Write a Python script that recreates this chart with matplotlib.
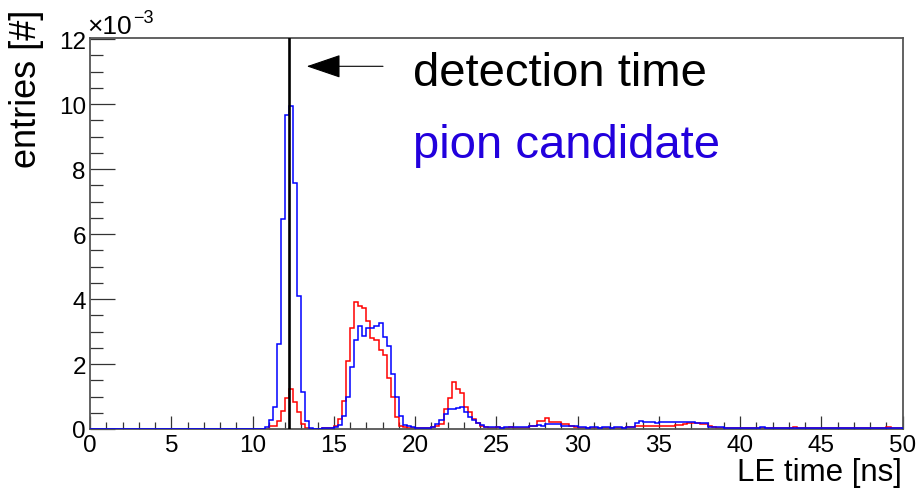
import numpy as np
import matplotlib
matplotlib.use('Agg')
import matplotlib.pyplot as plt
from matplotlib.ticker import MultipleLocator

plt.rcParams['font.family'] = ['Liberation Sans', 'DejaVu Sans']

# ---------------- data ----------------
bin_width = 0.25          # ns
x_range = (0.0, 50.0)     # ns
y_scale_exp = -3

# entries per 0.25 ns bin (units of 1e-3); one row = one ns = 4 bins
pion_blue = [
    [0, 0, 0, 0], [0, 0, 0, 0], [0, 0, 0, 0], [0, 0, 0, 0], [0, 0, 0, 0],          # 0-4
    [0, 0, 0, 0], [0, 0, 0, 0], [0, 0, 0, 0], [0, 0, 0, 0], [0, 0, 0, 0],          # 5-9
    [0, 0, 0, 0.05], [0.28, 0.68, 2.62, 6.46], [9.67, 9.95, 7.56, 4.10],            # 10-12
    [1.15, 0.25, 0.02, 0], [0, 0.02, 0.03, 0.03],                                    # 13-14
    [0.05, 0.13, 0.41, 0.97], [1.91, 2.75, 3.16, 2.85], [3.10, 3.10, 3.16, 3.26],   # 15-17
    [2.82, 2.54, 1.68, 1.00], [0.41, 0.12, 0.10, 0.07],                              # 18-19
    [0.03, 0.02, 0.02, 0.02], [0.05, 0.15, 0.27, 0.46], [0.61, 0.63, 0.66, 0.68],   # 20-22
    [0.51, 0.36, 0.27, 0.20], [0.12, 0.07, 0.05, 0.05],                              # 23-24
    [0.05, 0.04, 0.05, 0.06], [0.05, 0.06, 0.05, 0.05], [0.10, 0.10, 0.11, 0.10],   # 25-27
    [0.15, 0.15, 0.14, 0.15], [0.10, 0.10, 0.10, 0.08],                              # 28-29
    [0.05, 0.05, 0.04, 0.05], [0.05, 0.04, 0.05, 0.05], [0.04, 0.05, 0.05, 0.04],   # 30-32
    [0.07, 0.07, 0.20, 0.25], [0.22, 0.22, 0.22, 0.20],                              # 33-34
    [0.23, 0.23, 0.22, 0.23], [0.23, 0.23, 0.22, 0.22], [0.22, 0.17, 0.17, 0.17],   # 35-37
    [0.07, 0.05, 0.05, 0.05], [0.03, 0.03, 0.02, 0.03],                              # 38-39
    [0.02, 0.03, 0.02, 0.02], [0.03, 0.05, 0.03, 0.02], [0.02, 0.03, 0.02, 0.02],   # 40-42
    [0.03, 0.02, 0.03, 0.02], [0.02, 0.02, 0.03, 0.02],                              # 43-44
    [0.02, 0.03, 0.02, 0.02], [0.03, 0.02, 0.02, 0.03], [0.02, 0.02, 0.03, 0.02],   # 45-47
    [0.02, 0.03, 0.02, 0.02], [0.02, 0.02, 0.03, 0.02],                              # 48-49
]

other_red = [
    [0, 0, 0, 0], [0, 0, 0, 0], [0, 0, 0, 0], [0, 0, 0, 0], [0, 0, 0, 0],          # 0-4
    [0, 0, 0, 0], [0, 0, 0, 0], [0, 0, 0, 0], [0, 0, 0, 0], [0, 0, 0, 0],          # 5-9
    [0, 0, 0, 0], [0.10, 0.10, 0.25, 0.56], [0.95, 1.24, 0.84, 0.51],               # 10-12
    [0.15, 0.02, 0, 0], [0, 0.02, 0.02, 0.03],                                       # 13-14
    [0.10, 0.31, 0.87, 2.09], [3.12, 3.90, 3.80, 3.71], [3.31, 2.80, 2.75, 2.42],   # 15-17
    [2.29, 1.58, 0.97, 0.36], [0.10, 0.05, 0.03, 0.02],                              # 18-19
    [0.02, 0.03, 0.03, 0.03], [0.05, 0.10, 0.15, 0.61], [0.94, 1.46, 1.24, 1.12],   # 20-22
    [0.68, 0.51, 0.31, 0.18], [0.10, 0.05, 0.03, 0.03],                              # 23-24
    [0.05, 0.04, 0.03, 0.05], [0.03, 0.02, 0.03, 0.04], [0.08, 0.08, 0.25, 0.25],   # 25-27
    [0.33, 0.22, 0.22, 0.22], [0.15, 0.15, 0.08, 0.05],                              # 28-29
    [0.03, 0.03, 0.02, 0.03], [0.03, 0.02, 0.03, 0.02], [0.03, 0.02, 0.03, 0.03],   # 30-32
    [0.05, 0.05, 0.08, 0.08], [0.08, 0.08, 0.08, 0.10],                              # 33-34
    [0.10, 0.10, 0.10, 0.10], [0.12, 0.12, 0.14, 0.17], [0.17, 0.17, 0.15, 0.15],   # 35-37
    [0.08, 0.05, 0.04, 0.03], [0.02, 0.02, 0.02, 0.02],                              # 38-39
    [0.02, 0.02, 0.02, 0.02], [0.02, 0.02, 0.02, 0.02], [0.02, 0.02, 0.02, 0.02],   # 40-42
    [0.02, 0.07, 0.02, 0.02], [0.02, 0.02, 0.02, 0.02],                              # 43-44
    [0.02, 0.02, 0.02, 0.02], [0.02, 0.02, 0.03, 0.02], [0.02, 0.02, 0.02, 0.02],   # 45-47
    [0.02, 0.02, 0.02, 0.02], [0.05, 0.02, 0.02, 0.02],                              # 48-49
]

detection_time = 12.25    # ns

x_ticks = [0, 5, 10, 15, 20, 25, 30, 35, 40, 45, 50]
y_ticks = [0, 2, 4, 6, 8, 10, 12]

# ---------------- plot ----------------
W, H = 921, 489
fig = plt.figure(figsize=(W / 100, H / 100), dpi=100)

def fx(px):
    return px / W

def fy(py):
    return 1 - py / H

ax = fig.add_axes([fx(90), fy(430), (902.7 - 90) / W, (430 - 38.5) / H])

edges = np.arange(x_range[0], x_range[1] + bin_width / 2, bin_width)
red_vals = np.array(other_red, dtype=float).ravel()
blue_vals = np.array(pion_blue, dtype=float).ravel()

ax.stairs(red_vals, edges, baseline=0, color='#ff0000', lw=1.1, zorder=2)
ax.stairs(blue_vals, edges, baseline=0, color='#0000ff', lw=1.1, zorder=3)
ax.axvline(detection_time, color='black', lw=1.9, zorder=4)

ax.set_xlim(*x_range)
ax.set_ylim(0, 12.05)
ax.set_xticks(x_ticks)
ax.set_yticks(y_ticks)
ax.xaxis.set_minor_locator(MultipleLocator(1))
ax.yaxis.set_minor_locator(MultipleLocator(0.5))

frame_col = '#555555'
for s in ax.spines.values():
    s.set_color(frame_col)
    s.set_linewidth(1.3)

ax.tick_params(axis='both', which='both', direction='in', top=False, right=False,
               colors='black', labelsize=17.5)
ax.tick_params(axis='x', which='major', length=9.4, width=0.9, color='#333333', pad=3.5)
ax.tick_params(axis='x', which='minor', length=5.0, width=0.9, color='#333333')
ax.tick_params(axis='y', which='major', length=18, width=0.9, color='#333333', pad=3)
ax.tick_params(axis='y', which='minor', length=9.4, width=0.9, color='#333333')

# axis titles
fig.text(fx(902), fy(481), 'LE time [ns]', ha='right', va='baseline', fontsize=22.5)
fig.text(fx(27), fy(10), 'entries [#]', ha='center', va='top', rotation=90, fontsize=26)

# exponent label
fig.text(fx(87), fy(34), '\u00d710', ha='left', va='baseline', fontsize=19)
fig.text(fx(133), fy(23), '\u22123', ha='left', va='baseline', fontsize=13)

# arrow + texts
ax.annotate('', xy=(fx(306.7), fy(67.3)), xycoords='figure fraction',
            xytext=(fx(383), fy(67.3)), textcoords='figure fraction',
            arrowprops=dict(arrowstyle='-|>,head_length=22,head_width=7.5',
                            mutation_scale=1, lw=0.8, color='black',
                            shrinkA=0, shrinkB=0))
fig.text(fx(413), fy(86), 'detection time', ha='left', va='baseline',
         fontsize=34, color='black')
fig.text(fx(413), fy(158.3), 'pion candidate', ha='left', va='baseline',
         fontsize=34, color='#2200dd')

fig.savefig('out.png', dpi=100)
